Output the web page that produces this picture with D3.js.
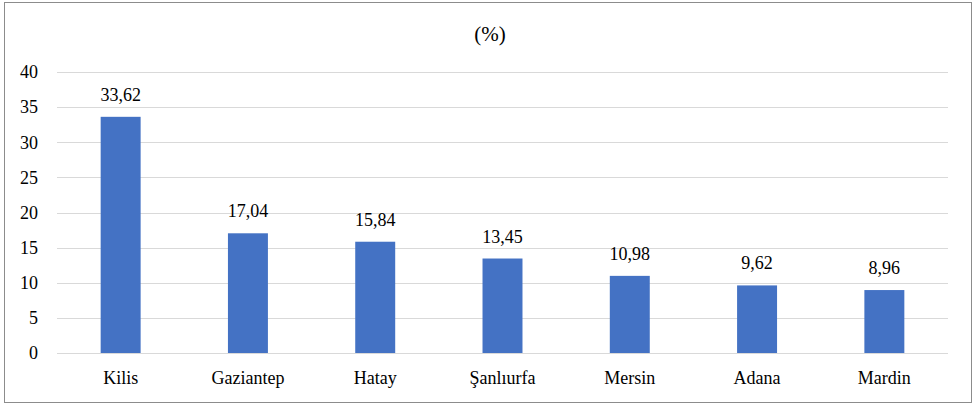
<!DOCTYPE html>
<html><head><meta charset="utf-8">
<script src="https://cdn.jsdelivr.net/npm/d3@7"></script>
<style>body{margin:0;background:#fff}svg{display:block}</style>
</head><body><svg id="c" width="975" height="406"></svg>
<script>
const categories = ["Kilis","Gaziantep","Hatay","Şanlıurfa","Mersin","Adana","Mardin"];
const values = [33.62,17.04,15.84,13.45,10.98,9.62,8.96];
const valueLabels = ["33,62","17,04","15,84","13,45","10,98","9,62","8,96"];
const yTicks = [0,5,10,15,20,25,30,35,40];
const title = "(%)";

const svg = d3.select("#c").attr("font-family","Liberation Serif");
const W = 975, H = 406;
const m = {left:57, right:27, top:72, bottom:53};
const FONT = '"Liberation Serif"';

svg.append("rect").attr("x",4.5).attr("y",2.5).attr("width",967).attr("height",400)
  .attr("fill","#fff").attr("stroke","#8c8c8c").attr("stroke-width",1);

const x = d3.scaleBand().domain(categories).range([m.left, W-m.right]).paddingInner(0.686).paddingOuter(0.343);
const y = d3.scaleLinear().domain([0,40]).range([H-m.bottom, m.top]);

svg.append("g").selectAll("line").data(yTicks).join("line")
  .attr("x1",m.left).attr("x2",W-m.right)
  .attr("y1",d=>Math.round(y(d))+0.5).attr("y2",d=>Math.round(y(d))+0.5)
  .attr("stroke","#d9d9d9").attr("stroke-width",1);

const yAxis = d3.axisLeft(y).tickValues(yTicks).tickSize(0).tickPadding(0).tickFormat(d3.format("d"));
const ga = svg.append("g").attr("transform",`translate(${m.left-19},0)`).call(yAxis);
ga.select(".domain").remove();
ga.attr("font-family","Liberation Serif").attr("font-size",18);
ga.selectAll("text").style("font-family",FONT).attr("font-size",18).attr("fill","#000").attr("dy","0.32em");

svg.append("g").selectAll("rect").data(values).join("rect")
  .attr("x",(d,i)=>x(categories[i])).attr("width",x.bandwidth())
  .attr("y",d=>y(d)).attr("height",d=>y(0)-y(d)).attr("fill","#4472c4");

svg.append("g").selectAll("text").data(values).join("text")
  .attr("x",(d,i)=>x(categories[i])+x.bandwidth()/2).attr("y",d=>y(d)-16)
  .attr("text-anchor","middle").style("font-family",FONT).attr("font-size",18).attr("fill","#000")
  .text((d,i)=>valueLabels[i]);

const xAxis = d3.axisBottom(x).tickSize(0).tickPadding(0);
const gx = svg.append("g").attr("transform",`translate(0,${y(0)+31})`).call(xAxis);
gx.select(".domain").remove();
gx.attr("font-family","Liberation Serif").attr("font-size",18);
gx.selectAll("text").style("font-family",FONT).attr("font-size",18).attr("fill","#000").attr("dy","0");

svg.append("text").attr("x",490).attr("y",41).attr("text-anchor","middle")
  .style("font-family",FONT).attr("font-size",21).attr("fill","#000").text(title);
</script></body></html>
